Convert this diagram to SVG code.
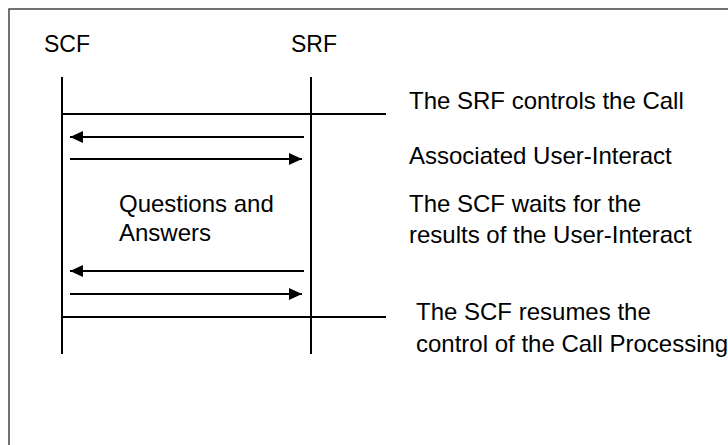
<svg xmlns="http://www.w3.org/2000/svg" width="728" height="445" viewBox="0 0 728 445">
<style>
text{font-family:"Liberation Sans",Arial,sans-serif;font-size:24px;fill:#000}
.ln{stroke:#000;stroke-width:2;fill:none}
.msg{stroke:#000;stroke-width:2;fill:none;marker-end:url(#ah)}
</style>
<defs>
<marker id="ah" viewBox="0 0 13 12" refX="13" refY="6" markerWidth="13" markerHeight="12" markerUnits="userSpaceOnUse" orient="auto">
<path d="M0,0 L13,6 L0,12 Z" fill="#000"/>
</marker>
</defs>
<rect x="9" y="9" width="730" height="450" fill="#fff" stroke="#444" stroke-width="1.5"/>
<g id="scf">
<text x="44" y="52" style="font-size:23px">SCF</text>
<line class="ln" x1="62" y1="77" x2="62" y2="354"/>
</g>
<g id="srf">
<text x="291" y="52" style="font-size:23px">SRF</text>
<line class="ln" x1="311" y1="77" x2="311" y2="354"/>
</g>
<g id="connectors">
<line class="ln" x1="62" y1="114" x2="386" y2="114"/>
<line class="msg" x1="304" y1="137" x2="70" y2="137"/>
<line class="msg" x1="70" y1="159" x2="302" y2="159"/>
<line class="msg" x1="304" y1="271" x2="70" y2="271"/>
<line class="msg" x1="70" y1="294" x2="302" y2="294"/>
<line class="ln" x1="62" y1="317" x2="386" y2="317"/>
</g>
<g id="qa">
<text x="119" y="212">Questions and</text>
<text x="119" y="241">Answers</text>
</g>
<g id="notes">
<text x="409" y="109">The SRF controls the Call</text>
<text x="409" y="164">Associated User-Interact</text>
<text x="409" y="212">The SCF waits for the</text>
<text x="409" y="243">results of the User-Interact</text>
<text x="416" y="320">The SCF resumes the</text>
<text x="416" y="352">control of the Call Processing</text>
</g>
</svg>
